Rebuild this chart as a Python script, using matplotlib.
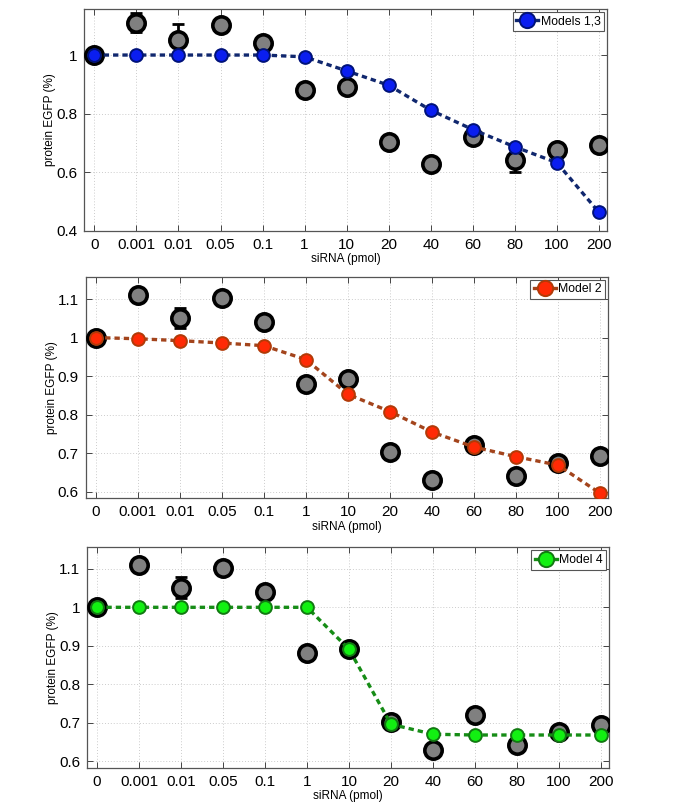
import matplotlib
matplotlib.use("Agg")
import matplotlib.pyplot as plt
from matplotlib.lines import Line2D

plt.rcParams['font.family'] = ['Liberation Sans', 'DejaVu Sans']

# ---- data ----
doses = ["0", "0.001", "0.01", "0.05", "0.1", "1", "10", "20", "40", "60", "80", "100", "200"]
experiment = [1.00, 1.11, 1.051, 1.102, 1.041, 0.880, 0.892, 0.702, 0.630, 0.721, 0.641, 0.675, 0.694]
exp_err_top = [0.0, 0.032, 0.054, 0.01, 0.01, 0.01, 0.01, 0.01, 0.01, 0.01, 0.04, 0.01, 0.01]
exp_err_other = [0.0, 0.012, 0.027, 0.01, 0.01, 0.01, 0.01, 0.01, 0.01, 0.01, 0.012, 0.01, 0.01]

model_13 = [1.0, 1.0, 1.0, 1.0, 1.0, 0.994, 0.946, 0.897, 0.812, 0.746, 0.687, 0.633, 0.464]
model_2 = [1.0, 0.997, 0.992, 0.986, 0.979, 0.943, 0.853, 0.808, 0.755, 0.716, 0.691, 0.669, 0.596]
model_4 = [1.0, 1.0, 1.0, 1.0, 1.0, 1.0, 0.891, 0.696, 0.670, 0.668, 0.668, 0.668, 0.668]

labels = ["Models 1,3", "Model 2", "Model 4"]
yticks_top = [0.4, 0.6, 0.8, 1.0]
yticks_other = [0.6, 0.7, 0.8, 0.9, 1.0, 1.1]
ytick_labels_top = ["0.4", "0.6", "0.8", "1"]
ytick_labels_other = ["0.6", "0.7", "0.8", "0.9", "1", "1.1"]

W, H = 685, 809
fig = plt.figure(figsize=(W / 100, H / 100), dpi=100)

# axes positions in pixels: left, right, top, bottom
boxes = [(84.3, 607.3, 9.0, 231.0),
         (85.7, 608.5, 276.7, 498.3),
         (87.0, 609.3, 547.3, 767.7)]

styles = [
    dict(face='#0a1ef0', edge='#00127a', line='#10276e'),
    dict(face='#ff2a05', edge='#b23a08', line='#a3441c'),
    dict(face='#12f012', edge='#127a12', line='#168c16'),
]
models = [model_13, model_2, model_4]
errs = [exp_err_top, exp_err_other, exp_err_other]
ylims = [(0.4, 1.157), (0.583, 1.158), (0.583, 1.156)]
yt = [(yticks_top, ytick_labels_top), (yticks_other, ytick_labels_other), (yticks_other, ytick_labels_other)]

x = list(range(len(doses)))
for i, (l, r, t, b) in enumerate(boxes):
    ax = fig.add_axes([l / W, 1 - b / H, (r - l) / W, (b - t) / H])
    st = styles[i]
    ax.errorbar(x, experiment, yerr=errs[i], fmt='none', ecolor='black',
                elinewidth=2.0, capsize=4, capthick=2.0, zorder=2)
    ax.plot(x, experiment, 'o', ms=12.5, mfc='#808080', mec='black', mew=2.6,
            ls='none', zorder=3)
    ax.plot(x, models[i], color=st['line'], lw=2.4, ls=(0, (1.6, 1.2)), zorder=4)
    ax.plot(x, models[i], 'o', ms=9.2, mfc=st['face'], mec=st['edge'], mew=1.4,
            ls='none', zorder=5)

    ax.set_xlim(-0.24, 12.2)
    ax.set_ylim(*ylims[i])
    ax.set_xticks(x)
    ax.set_xticklabels(doses)
    ax.set_yticks(yt[i][0])
    ax.set_yticklabels(yt[i][1])
    ax.tick_params(direction='in', length=4, width=0.7, labelsize=11,
                   top=True, right=True, color='#444444', pad=5)
    for s in ax.spines.values():
        s.set_color('#555555')
        s.set_linewidth(0.9)
    ax.grid(True, ls=(0, (1, 2)), color='#cccccc', lw=0.7)
    ax.set_axisbelow(True)
    ax.set_xlabel('siRNA (pmol)', fontsize=8.5, labelpad=1)
    ax.set_ylabel('protein EGFP (%)', fontsize=8.5, labelpad=0)

    handle = Line2D([0], [0], color=st['line'], lw=2.4, ls='-', marker='o',
                    ms=11, mfc=st['face'], mec=st['edge'], mew=1.4)
    leg = ax.legend([handle], [labels[i]], loc='upper right', fontsize=8.8,
                    frameon=True, fancybox=False, borderaxespad=0.25,
                    handlelength=1.8, handletextpad=0.2, borderpad=0.3)
    leg.get_frame().set_edgecolor('#555555')
    leg.get_frame().set_linewidth(0.8)
    leg.get_frame().set_alpha(1)

fig.savefig('out.png', dpi=100)
